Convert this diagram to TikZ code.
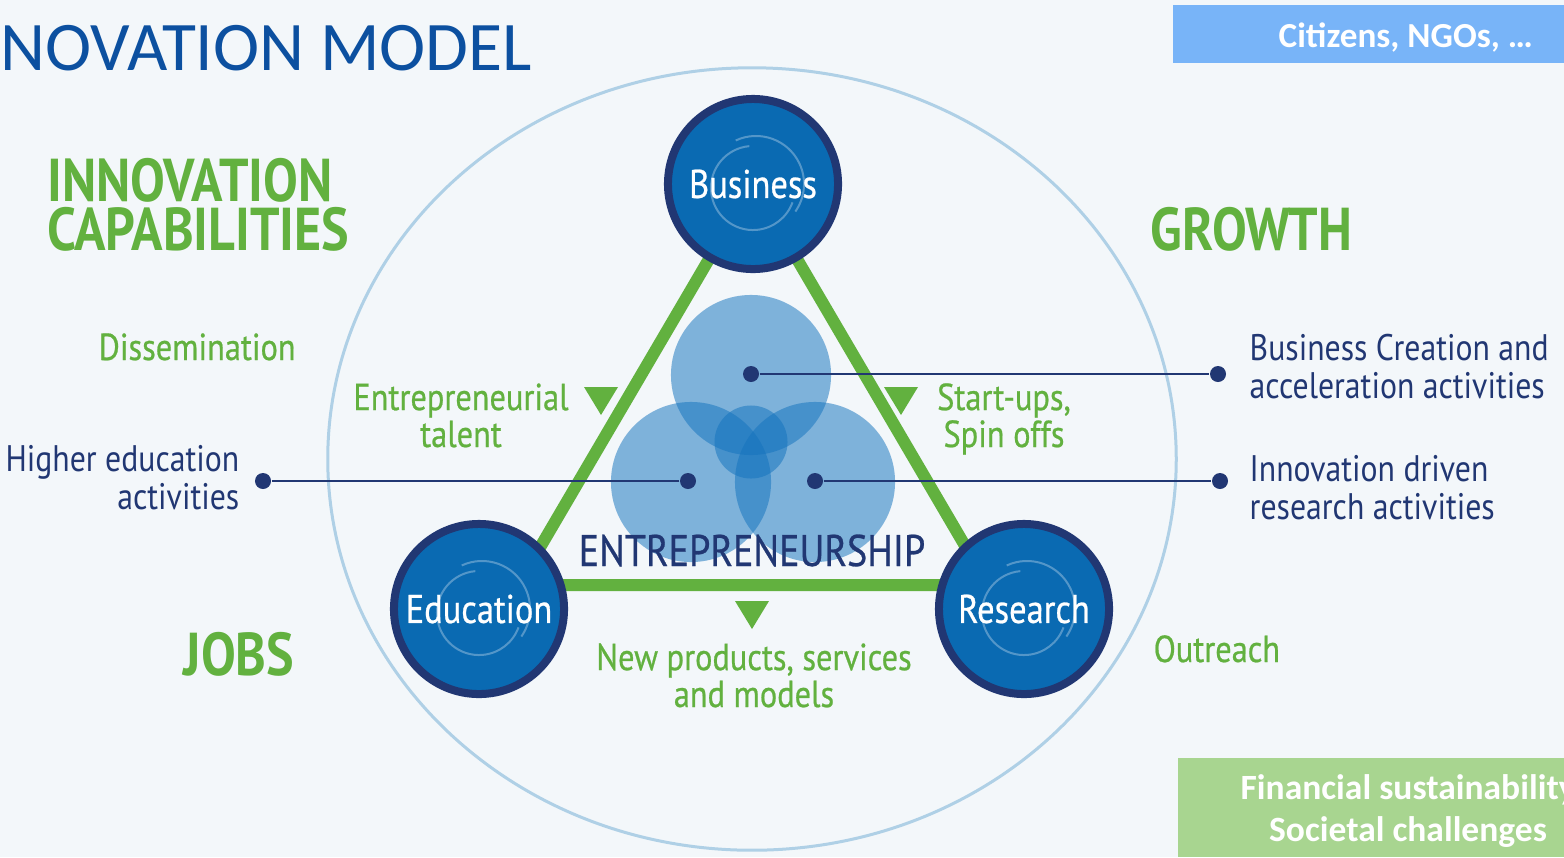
\documentclass[tikz,border=0pt]{standalone}
\usepackage{fontspec}
\setmainfont{PT Sans}[FakeStretch=0.86]
\newfontfamily\mediumfont{PT Sans}[FakeStretch=0.86, FakeBold=0.6]
\newfontfamily\calibri{Carlito}
\usetikzlibrary{positioning,calc}

\definecolor{bgpanel}{RGB}{243,247,250}
\definecolor{kicgreen}{RGB}{98,177,63}
\definecolor{kicnavy}{RGB}{33,55,115}
\definecolor{kicblue}{RGB}{10,106,178}
\definecolor{vennblue}{RGB}{20,115,190}
\definecolor{ringblue}{RGB}{175,208,230}
\definecolor{titleblue}{RGB}{12,80,160}
\definecolor{citizenbox}{RGB}{120,180,248}
\definecolor{fundbox}{RGB}{168,213,144}

\tikzstyle{pillar} = [circle, minimum size=1.70cm, inner sep=0pt, draw=kicnavy, line width=0.08cm, fill=kicblue]
\tikzstyle{hub}    = [circle, minimum size=0.16cm, inner sep=0pt, fill=kicnavy]
\tikzstyle{link}   = [kicnavy, line width=0.02cm]

\begin{document}
\begin{tikzpicture}[x=0.01cm, y=-0.01cm,
    heading/.style={text=kicgreen, inner sep=0pt, align=left, font=\bfseries\fontsize{17.2}{13.7}\selectfont},
    output/.style={text=kicgreen, inner sep=0pt, align=center, font=\mediumfont\fontsize{10.7}{10.5}\selectfont},
    activity/.style={text=kicnavy, inner sep=0pt, font=\fontsize{10.5}{10.7}\selectfont},
    label/.style={text=white, font=\mediumfont\fontsize{11.4}{13}\selectfont},
    boxtext/.style={text=white, inner sep=0pt, align=center, font=\calibri\bfseries\fontsize{10.1}{11.7}\selectfont},
    venn/.style={fill=vennblue, fill opacity=0.52},
    swirl/.style={draw=white, draw opacity=0.3, line width=0.02cm}]

    \fill[bgpanel] (0,0) rectangle (1564,857);
    \useasboundingbox (0,0) rectangle (1564,857);

    \node[anchor=base west, inner sep=0pt, text=titleblue, font=\calibri\fontsize{19.8}{20}\selectfont] (title) at (0,70) {NOVATION MODEL};

    % stakeholder boxes on the right
    \fill[citizenbox] (1173,5) rectangle (1564,63);
    \node[boxtext, anchor=base west, font=\calibri\bfseries\fontsize{10}{11}\selectfont] (citizens) at (1278,47) {Citizens, NGOs, …};
    \fill[fundbox] (1178,758) rectangle (1600,857);
    \node[boxtext, anchor=base] (funding) at (1408,841) {Financial sustainability\\Societal challenges};

    % outer ring and knowledge triangle
    \draw[ringblue, line width=0.03cm] (752,459) ellipse [x radius=4.24cm, y radius=3.91cm];
    \coordinate (apex) at (753,184);
    \coordinate (lcorner) at (518,585);
    \coordinate (rcorner) at (988,585);
    \draw[kicgreen, line width=0.12cm] (apex) -- (lcorner) -- (rcorner) -- cycle;

    % entrepreneurship venn
    \fill[venn] (751,375) circle [radius=0.80cm];
    \fill[venn] (691,482) circle [radius=0.80cm];
    \fill[venn] (815,482) circle [radius=0.80cm];
    \fill[venn] (751,442) circle [radius=0.365cm];

    \node[hub] (hubtop)   at (751,374) {};
    \node[hub] (hubleft)  at (688,481) {};
    \node[hub] (hubright) at (815,481) {};
    \node[hub] (endtop)   at (1218,374) {};
    \node[hub] (endleft)  at (263,481) {};
    \node[hub] (endright) at (1220,481) {};
    \draw[link] (hubtop) -- (endtop);
    \draw[link] (hubleft) -- (endleft);
    \draw[link] (hubright) -- (endright);

    \node[text=kicnavy, inner sep=0pt, anchor=base, font=\mediumfont\fontsize{12.6}{13}\selectfont] (entre) at (752,566) {ENTREPRENEURSHIP};

    % the three pillars
    \node[pillar] (biz) at (753,184) {};
    \node[pillar] (edu) at (479,609) {};
    \node[pillar] (res) at (1024,609) {};
    \foreach \n in {biz,edu,res} {
        \draw[swirl] ([shift={(115:0.48cm)}]\n.center) ++(0.03cm,0) arc[start angle=115, end angle=-35, radius=0.48cm];
        \draw[swirl] ([shift={(95:0.42cm)}]\n.center) ++(0,-0.04cm) arc[start angle=95, end angle=340, radius=0.42cm];
    }
    \node[label] at (biz) {Business};
    \node[label] at (edu) {Education};
    \node[label] at (res) {Research};

    % flow markers
    \foreach \x/\y in {601/387, 901/387, 752/601}
        \fill[kicgreen] (\x-17,\y) -- (\x+17,\y) -- (\x,\y+28) -- cycle;

    % green labels
    \node[heading, anchor=base west] (capab) at (47,250) {INNOVATION\\CAPABILITIES};
    \node[heading, anchor=base west] (growth) at (1150,250) {GROWTH};
    \node[heading, anchor=base west] (jobs) at (183,675) {JOBS};
    \node[output, anchor=base west] (dissem) at (98,360) {Dissemination};
    \node[output, anchor=base west] (outreach) at (1153,662) {Outreach};
    \node[output, anchor=base] (talent) at (461,447) {Entrepreneurial\\talent};
    \node[output, anchor=base] (startups) at (1004,447) {Start-ups,\\Spin offs};
    \node[output, anchor=base] (products) at (754,707) {New products, services\\and models};

    % activities
    \node[activity, align=right, anchor=base east] (higher) at (240,509) {Higher education\\activities};
    \node[activity, align=left, anchor=base west] (creation) at (1249,398) {Business Creation and\\acceleration activities};
    \node[activity, align=left, anchor=base west] (research) at (1249,519) {Innovation driven\\research activities};
\end{tikzpicture}
\end{document}
